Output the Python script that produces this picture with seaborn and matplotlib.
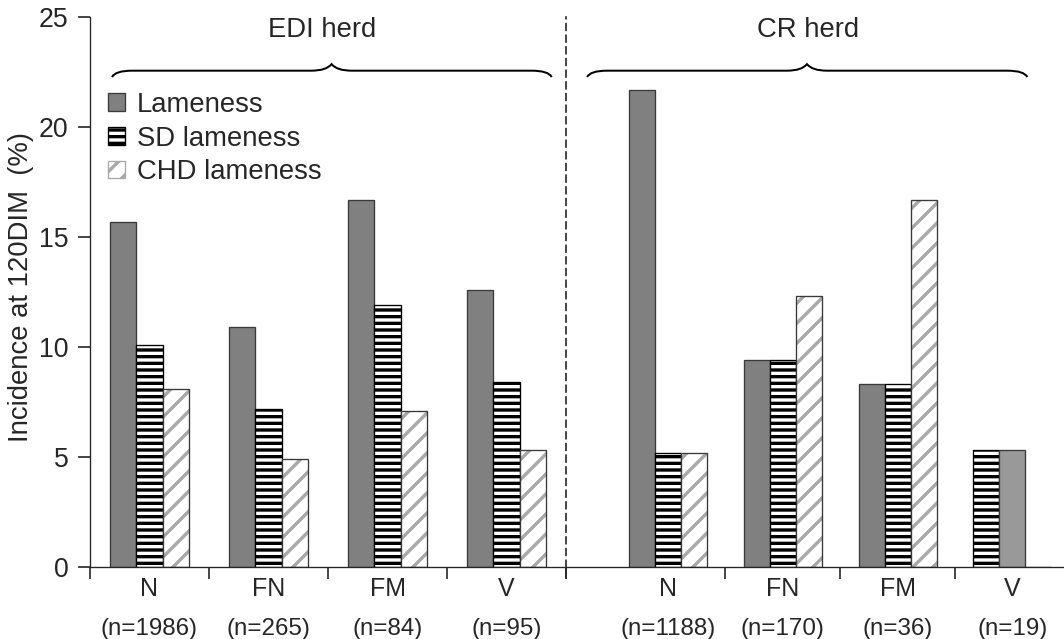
import matplotlib.pyplot as plt
import pandas as pd
import seaborn as sns
from matplotlib.patches import Patch, PathPatch, Rectangle
from matplotlib.path import Path

# -----------------------------
# Data
# -----------------------------
categories = ["N", "FN", "FM", "V"]
series = ["Lameness", "SD lameness", "CHD lameness"]

edi_counts = ["(n=1986)", "(n=265)", "(n=84)", "(n=95)"]
edi_lameness = [15.7, 10.9, 16.7, 12.6]
edi_sd = [10.1, 7.2, 11.9, 8.4]
edi_chd = [8.1, 4.9, 7.1, 5.3]

cr_counts = ["(n=1188)", "(n=170)", "(n=36)", "(n=19)"]
cr_lameness = [21.7, 9.4, 8.3, 5.3]
cr_sd = [5.2, 9.4, 8.3, 5.3]
cr_chd = [5.2, 12.3, 16.7, 0.0]

DPI = 120
EDGE = "#3a3a3a"
GRAY = "#808080"
LIGHT_GRAY = "#999999"
HATCH_GRAY = "#a8a8a8"


def to_long(lame, sd, chd):
    df = pd.DataFrame({series[0]: lame, series[1]: sd, series[2]: chd}, index=categories)
    df.index.name = "group"
    return df.reset_index().melt(id_vars="group", var_name="series", value_name="value")


def style_bar(ax, bar, kind):
    if kind in ("lame", "lame_light"):
        bar.set_facecolor(GRAY if kind == "lame" else LIGHT_GRAY)
        bar.set_edgecolor(EDGE)
        bar.set_linewidth(0.8)
    elif kind == "sd":
        bar.set_facecolor("white")
        bar.set_edgecolor("black")
        bar.set_hatch("---")
        bar.set_linewidth(0.8)
    else:
        bar.set_facecolor("white")
        bar.set_edgecolor(HATCH_GRAY)
        bar.set_hatch("//")
        bar.set_linewidth(0)
        ax.add_patch(Rectangle(bar.get_xy(), bar.get_width(), bar.get_height(),
                               fill=False, edgecolor=EDGE, linewidth=0.8, zorder=bar.get_zorder() + 0.1))


def draw_brace(ax, x0, x1, xm, d, y_end=22.27, y_line=22.56, y_top=22.86):
    verts = [(x0, y_end), (x0 + d * 0.15, y_line), (x0 + d, y_line),
             (xm - d, y_line), (xm - d * 0.25, y_line), (xm, y_top),
             (xm + d * 0.25, y_line), (xm + d, y_line),
             (x1 - d, y_line), (x1 - d * 0.15, y_line), (x1, y_end)]
    codes = [Path.MOVETO, Path.CURVE3, Path.CURVE3, Path.LINETO, Path.CURVE3, Path.CURVE3,
             Path.CURVE3, Path.CURVE3, Path.LINETO, Path.CURVE3, Path.CURVE3]
    ax.add_patch(PathPatch(Path(verts, codes), fill=False, lw=1.2, color="black", clip_on=False))


def plot_herd(ax, df, width, counts):
    sns.barplot(data=df, x="group", y="value", hue="series", order=categories, hue_order=series,
                width=width, ax=ax, palette=[GRAY, "white", "white"], saturation=1,
                legend=False, errorbar=None)
    ax.set_xlabel("")
    ax.set_ylabel("")
    ax.set_ylim(0, 25)
    for i, c in enumerate(counts):
        ax.text(i, -0.112, c, transform=ax.get_xaxis_transform(), ha="center", va="center",
                fontsize=14.5)
    ax.tick_params(axis="x", which="major", length=0, pad=6, labelsize=15)
    ax.tick_params(axis="x", which="minor", length=7, width=1, direction="out")
    ax.spines["top"].set_visible(False)
    ax.spines["right"].set_visible(False)


sns.set_style("ticks")
plt.rcParams["font.family"] = ["Liberation Sans", "DejaVu Sans"]
plt.rcParams["hatch.linewidth"] = 2.0

fig = plt.figure(figsize=(1064 / DPI, 639 / DPI), dpi=DPI)
bottom, height = 1 - 567 / 639, 550 / 639
ax1 = fig.add_axes([90 / 1064, bottom, 476 / 1064, height])
ax2 = fig.add_axes([566 / 1064, bottom, 498 / 1064, height])

# EDI herd
plot_herd(ax1, to_long(edi_lameness, edi_sd, edi_chd), 0.67, edi_counts)
kinds = ["lame", "sd", "chd"]
for k, cont in zip(kinds, ax1.containers):
    for bar in cont:
        style_bar(ax1, bar, k)
ax1.set_xlim(-0.5, 3.5)
ax1.set_xticks([-0.5, 0.5, 1.5, 2.5, 3.5], minor=True)
ax1.set_yticks([0, 5, 10, 15, 20, 25])
ax1.tick_params(axis="y", length=7, width=1, pad=6, labelsize=16)
ax1.set_ylabel("Incidence at 120DIM  (%)", fontsize=16.5)
ax1.yaxis.set_label_coords(-56 / 476, 0.51)

# CR herd
plot_herd(ax2, to_long(cr_lameness, cr_sd, cr_chd), 0.68, cr_counts)
for k, cont in zip(kinds, ax2.containers):
    for j, bar in enumerate(cont):
        kk = k
        if j == 3 and k == "lame":
            kk = "sd"
        elif j == 3 and k == "sd":
            kk = "lame_light"
        style_bar(ax2, bar, kk)
ax2.set_xlim(-0.89, 3.45)
ax2.set_xticks([-0.89, 0.5, 1.5, 2.5], minor=True)
ax2.tick_params(axis="y", left=False, labelleft=False)
ax2.spines["left"].set_linestyle((0, (4, 3)))
ax2.spines["left"].set_linewidth(1)

# herd headers
draw_brace(ax1, -0.315, 3.38, 1.53, 0.17)
draw_brace(ax2, -0.706, 3.13, 1.21, 0.175)
ax1.text(1.45, 24.4, "EDI herd", ha="center", va="center", fontsize=16.5)
ax2.text(1.22, 24.4, "CR herd", ha="center", va="center", fontsize=16.5)

handles = [Patch(facecolor=GRAY, edgecolor=EDGE, linewidth=0.8),
           Patch(facecolor="white", edgecolor="black", hatch="---", linewidth=0.8),
           Patch(facecolor="white", edgecolor=HATCH_GRAY, hatch="//", linewidth=0.8)]
ax1.legend(handles, series, loc="upper left", bbox_to_anchor=(0.038, 0.864), frameon=False,
           fontsize=16.5, borderpad=0, borderaxespad=0, labelspacing=0.28,
           handlelength=0.6, handleheight=0.6, handletextpad=0.45)

fig.savefig("out.png", dpi=DPI)
plt.close(fig)
